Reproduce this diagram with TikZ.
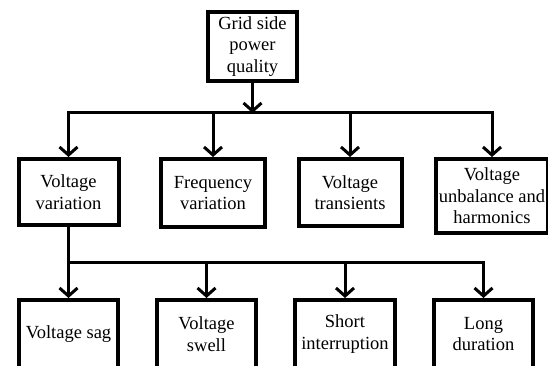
\documentclass[tikz,border=0pt]{standalone}
\usepackage{fontspec}
\setmainfont{Liberation Serif}
\usetikzlibrary{arrows.meta, positioning, calc}
\tikzset{
  block/.style={rectangle, draw=black, line width=4pt, fill=white,
                align=center, inner sep=0pt,
                font=\fontsize{18.5}{21.5}\selectfont},
  arrow/.style={-{Straight Barb[length=8pt, width=18pt]}, line width=3pt},
  link/.style={line width=3pt, line cap=rect},
}

\begin{document}
\begin{tikzpicture}[x=1pt, y=-1pt]
        \useasboundingbox (0,0) rectangle (548,366);
        \clip (0,0) rectangle (548,366);

        % top
        \node[block, minimum width=89pt, minimum height=69pt] (gpq) at (252.5,46.5)
          {Grid side\\power\\quality};
        \coordinate (bus) at (0,113);
        \coordinate (bus2) at (0,262);

        % second row
        \node[block, minimum width=100pt, minimum height=66pt] (vv) at (68.5,192) {Voltage\\variation};
        \node[block, minimum width=104pt, minimum height=68pt] (fv) at (213,193) {Frequency\\variation};
        \node[block, minimum width=103pt, minimum height=67pt] (vt) at (350,192.5) {Voltage\\transients};
        \node[block, minimum width=112pt, minimum height=74pt] (vu) at (492,196) {Voltage\\unbalance and\\harmonics};

        % third row
        \node[block, minimum width=99pt, minimum height=68pt] (vsag) at (68.5,334) {Voltage sag};
        \node[block, minimum width=99pt, minimum height=68pt] (vswell) at (206.5,334) {Voltage\\swell};
        \node[block, minimum width=100pt, minimum height=68pt] (si) at (345,334) {Short\\interruption};
        \node[block, minimum width=99pt, minimum height=68pt] (ld) at (483.5,334) {Long\\duration};

        % connectors
        \draw[arrow] (gpq) -- (gpq |- bus);
        \draw[link] (vv |- bus) -- (vu |- bus);
        \foreach \n in {vv, fv, vt, vu}{
          \draw[arrow] (\n |- bus) -- (\n);
        }
        \draw[link] (vv) -- (vv |- bus2);
        \draw[link] (vsag |- bus2) -- (ld |- bus2);
        \foreach \n in {vsag, vswell, si, ld}{
          \draw[arrow] (\n |- bus2) -- (\n);
        }
\end{tikzpicture}
\end{document}
